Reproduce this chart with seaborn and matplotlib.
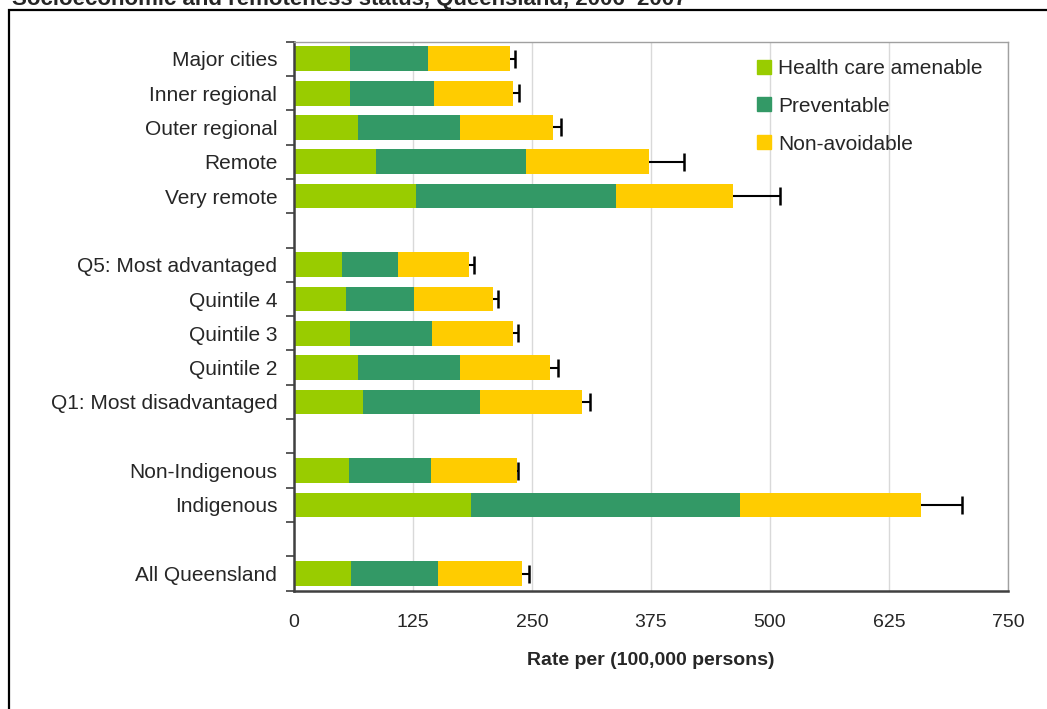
import numpy as np
import pandas as pd
import matplotlib
matplotlib.use('Agg')
import matplotlib.pyplot as plt
import matplotlib.patches as mpatches
import seaborn as sns

# values (rate per 100,000 persons)
groups = ['Major cities', 'Inner regional', 'Outer regional', 'Remote', 'Very remote',
          ' ',
          'Q5: Most advantaged', 'Quintile 4', 'Quintile 3', 'Quintile 2', 'Q1: Most disadvantaged',
          '  ',
          'Non-Indigenous', 'Indigenous',
          '   ',
          'All Queensland']
categories = [g for g in groups if g.strip()]
amenable = [59, 59, 67, 86, 128, 50, 55, 59, 67, 73, 58, 186, 60]
preventable = [82, 88, 107, 158, 210, 59, 71, 86, 107, 122, 86, 282, 91]
non_avoidable = [86, 83, 98, 129, 123, 75, 83, 85, 95, 107, 90, 191, 89]
upper_ci = [232, 236, 280, 410, 510, 189, 214, 235, 277, 311, 235, 702, 247]

series = ['Health care amenable', 'Preventable', 'Non-avoidable']
colors = ['#99CC00', '#339966', '#FFCC00']

df = pd.DataFrame({'Group': categories,
                   'Health care amenable': amenable,
                   'Preventable': preventable,
                   'Non-avoidable': non_avoidable,
                   'Upper': upper_ci})
df['s1'] = df['Health care amenable']
df['s2'] = df['s1'] + df['Preventable']
df['s3'] = df['s2'] + df['Non-avoidable']

sns.set_style('white')
plt.rcParams['font.family'] = ['Liberation Sans', 'DejaVu Sans']

fig = plt.figure(figsize=(10.47, 7.09), dpi=100)
ax = fig.add_axes([0.2808, 0.1669, 0.682, 0.7743])

# stacked bars: draw cumulative totals back to front
for col, c in zip(['s3', 's2', 's1'], colors[::-1]):
    sns.barplot(data=df, x=col, y='Group', order=groups, color=c, orient='h',
                width=0.72, saturation=1, linewidth=0, edgecolor='none', ax=ax, zorder=2)

# one-sided error bars (upper limit only)
pos = [groups.index(g) for g in categories]
ax.hlines(pos, df['s3'], df['Upper'], color='black', lw=1.5, zorder=3)
ax.plot(df['Upper'], pos, ls='none', marker='|', color='black', ms=13, mew=1.8, zorder=3)

ax.set_xlim(0, 750)
ax.set_ylim(len(groups) - 0.5, -0.5)
ax.set_xticks(np.arange(0, 751, 125))
ax.tick_params(axis='x', labelsize=14, length=5, width=1.2, color='#404040', pad=12)
ax.tick_params(axis='y', which='major', length=0, labelsize=15, pad=12)
ax.set_yticks(np.arange(-0.5, len(groups), 1), minor=True)
ax.tick_params(axis='y', which='minor', length=6, width=1.2, color='#404040', left=True)
ax.set_ylabel('')
ax.set_xlabel('Rate per (100,000 persons)', fontsize=14, fontweight='bold', labelpad=15)

ax.grid(axis='x', color='#D9D9D9', lw=1, zorder=0)
ax.set_axisbelow(True)
for s in ['left', 'bottom']:
    ax.spines[s].set_color('#404040')
    ax.spines[s].set_linewidth(1.8)
for s in ['top', 'right']:
    ax.spines[s].set_color('#A0A0A0')
    ax.spines[s].set_linewidth(1)

handles = [mpatches.Patch(color=c, label=l) for c, l in zip(colors, series)]
ax.legend(handles=handles, loc='upper left', bbox_to_anchor=(757 / 1047, 1 - 59 / 709),
          bbox_transform=fig.transFigure, frameon=False, fontsize=15,
          handlelength=0.65, handleheight=0.65, handletextpad=0.35, labelspacing=0.9,
          borderaxespad=0, borderpad=0)

# outer frame and clipped title line, as in the source document
fig.patches.append(mpatches.Rectangle((9 / 1047, -0.2), 1.2, 1.2 - 9.5 / 709, fill=False,
                                      lw=1.6, edgecolor='black', transform=fig.transFigure))
fig.text(12 / 1047, 1 - 5 / 709, 'Socioeconomic and remoteness status, Queensland, 2006\u20132007',
         fontsize=16, fontweight='bold', va='baseline', ha='left')

fig.savefig('out.png', dpi=100)
